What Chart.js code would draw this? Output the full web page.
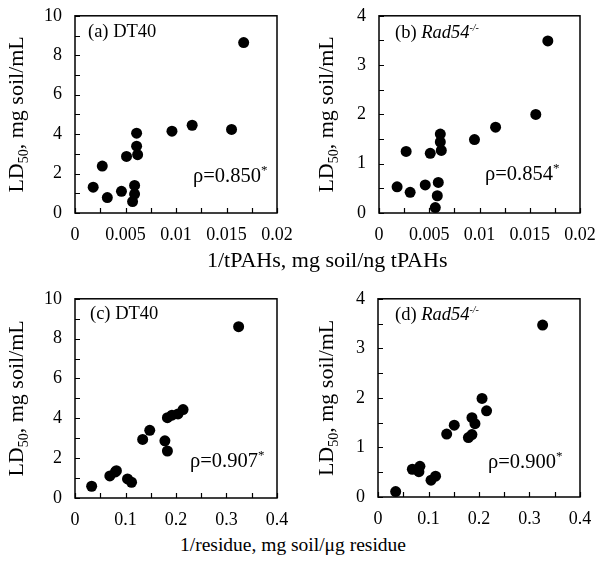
<!DOCTYPE html>
<html>
<head>
<meta charset="utf-8">
<script src="https://cdn.jsdelivr.net/npm/chart.js@4"></script>
<style>
  body { margin: 0; background: #fff; }
  #wrap { position: relative; width: 601px; height: 569px; }
  canvas { position: absolute; }
  .xtitle { position: absolute; font-family: 'Liberation Serif', serif; line-height: 22px; white-space: nowrap; color: #000; }
</style>
</head>
<body>
<div id="wrap">
  <canvas id="chartA" width="300" height="250" style="left:0px;top:0px"></canvas>
  <canvas id="chartB" width="301" height="250" style="left:300px;top:0px"></canvas>
  <canvas id="chartC" width="300" height="250" style="left:0px;top:283px"></canvas>
  <canvas id="chartD" width="301" height="250" style="left:300px;top:283px"></canvas>
  <div class="xtitle" id="titleTop" style="left:207px;top:249px;font-size:22px"></div>
  <div class="xtitle" id="titleBottom" style="left:180px;top:534px;font-size:19.5px"></div>
</div>
<script>
// 1/tPAHs values (x) and LD50 values (y)
const tpahsDT40 = [0.0167, 0.0116, 0.0096, 0.0155, 0.0061, 0.0061, 0.0062, 0.0051, 0.0027, 0.0018, 0.0032, 0.0046, 0.0059, 0.0059, 0.0057];
const ld50DT40 = [8.64, 4.45, 4.15, 4.24, 4.05, 3.39, 2.96, 2.87, 2.38, 1.31, 0.78, 1.10, 1.40, 0.96, 0.58];
const tpahsRad54 = [0.0168, 0.0156, 0.0116, 0.0095, 0.0061, 0.0061, 0.0062, 0.0051, 0.0027, 0.0018, 0.0031, 0.0046, 0.0059, 0.0058, 0.0056];
const ld50Rad54 = [3.49, 2.00, 1.74, 1.49, 1.60, 1.44, 1.27, 1.21, 1.25, 0.53, 0.42, 0.57, 0.62, 0.35, 0.11];

// 1/residue values (x) and LD50 values (y)
const residueDT40 = [0.324, 0.214, 0.204, 0.192, 0.183, 0.148, 0.134, 0.178, 0.183, 0.082, 0.069, 0.080, 0.104, 0.112, 0.033];
const ld50ResDT40 = [8.60, 4.44, 4.22, 4.16, 4.03, 3.40, 2.94, 2.87, 2.36, 1.37, 1.11, 1.31, 0.96, 0.79, 0.59];
const residueRad54 = [0.326, 0.206, 0.215, 0.186, 0.192, 0.151, 0.136, 0.186, 0.179, 0.083, 0.068, 0.081, 0.114, 0.105, 0.035];
const ld50ResRad54 = [3.47, 1.99, 1.74, 1.60, 1.48, 1.45, 1.27, 1.26, 1.20, 0.62, 0.56, 0.51, 0.42, 0.34, 0.11];

// tick labels
const tpahsTicks = [0, 0.005, 0.01, 0.015, 0.02];
const tpahsTickLabels = ['0', '0.005', '0.01', '0.015', '0.02'];
const residueTicks = [0, 0.1, 0.2, 0.3, 0.4];
const residueTickLabels = ['0', '0.1', '0.2', '0.3', '0.4'];
const ldTicksDT40 = [0, 2, 4, 6, 8, 10];
const ldTickLabelsDT40 = ['0', '2', '4', '6', '8', '10'];
const ldTicksRad54 = [0, 1, 2, 3, 4];
const ldTickLabelsRad54 = ['0', '1', '2', '3', '4'];

// texts
const panelNames = ['(a) ', '(b) ', '(c) ', '(d) '];
const cellLines = ['DT40', 'Rad54', 'DT40', 'Rad54'];
const rhoValues = ['ρ=0.850', 'ρ=0.854', 'ρ=0.907', 'ρ=0.900'];
const xTitles = ['1/tPAHs, mg soil/ng tPAHs', '1/residue, mg soil/μg residue'];

const SERIF = "'Liberation Serif', 'Times New Roman', serif";

function labelFor(ticks, labels) {
    return function(v) {
        const i = ticks.findIndex(t => Math.abs(t - v) < 1e-9);
        return i >= 0 ? labels[i] : '';
    };
}

function drawRuns(ctx, x, y, runs) {
    runs.forEach(r => {
        ctx.font = r.font;
        ctx.fillText(r.text, x, y + (r.dy || 0));
        x += ctx.measureText(r.text).width;
    });
}

function runsWidth(ctx, runs) {
    let w = 0;
    runs.forEach(r => { ctx.font = r.font; w += ctx.measureText(r.text).width; });
    return w;
}

function makePanel(id, cfg) {
    const points = cfg.xs.map((x, i) => ({ x: x, y: cfg.ys[i] }));

    const panelPlugin = {
        id: 'panelText',
        afterDraw(chart) {
            const ctx = chart.ctx;
            const area = chart.chartArea;
            ctx.save();
            ctx.strokeStyle = '#000';
            ctx.fillStyle = '#000';

            // inward minor/major ticks
            ctx.lineWidth = 1.2;
            const xs = chart.scales.x, ys = chart.scales.y;
            ctx.beginPath();
            xs.ticks.forEach(t => {
                const px = Math.round(xs.getPixelForValue(t.value)) + 0.5;
                ctx.moveTo(px, area.bottom);
                ctx.lineTo(px, area.bottom - 5);
            });
            ys.ticks.forEach(t => {
                const py = Math.round(ys.getPixelForValue(t.value)) + 0.5;
                ctx.moveTo(area.left, py);
                ctx.lineTo(area.left + 5, py);
            });
            ctx.stroke();

            // frame
            ctx.lineWidth = 1.5;
            ctx.strokeRect(area.left, area.top, area.right - area.left, area.bottom - area.top);

            // panel label
            ctx.textBaseline = 'alphabetic';
            ctx.textAlign = 'left';
            const nameRuns = [{ text: cfg.name, font: '18.5px ' + SERIF }];
            if (cfg.italic) {
                nameRuns.push({ text: cfg.cell, font: 'italic 18.5px ' + SERIF });
                nameRuns.push({ text: '-/-', font: 'italic 10px ' + SERIF, dy: -7 });
            } else {
                nameRuns[0].text += cfg.cell;
            }
            drawRuns(ctx, cfg.labelX, cfg.labelY, nameRuns);

            // correlation
            drawRuns(ctx, cfg.rhoX, cfg.rhoY, [
                { text: cfg.rho, font: '20.5px ' + SERIF },
                { text: '*', font: '13px ' + SERIF, dy: -8 }
            ]);

            // y axis title, rotated
            const titleRuns = [
                { text: 'LD', font: '22px ' + SERIF },
                { text: '50', font: '14px ' + SERIF, dy: 5 },
                { text: ', mg soil/mL', font: '22px ' + SERIF }
            ];
            ctx.translate(cfg.yTitleX, (area.top + area.bottom) / 2);
            ctx.rotate(-Math.PI / 2);
            drawRuns(ctx, -runsWidth(ctx, titleRuns) / 2, 0, titleRuns);
            ctx.restore();
        }
    };

    return new Chart(document.getElementById(id), {
        type: 'scatter',
        data: {
            datasets: [{
                data: points,
                backgroundColor: '#000',
                borderColor: '#000',
                borderWidth: 0,
                pointRadius: 5.5,
                pointHoverRadius: 5.5,
                clip: false
            }]
        },
        options: {
            responsive: false,
            animation: false,
            events: [],
            layout: { autoPadding: false, padding: cfg.pad },
            plugins: { legend: { display: false }, tooltip: { enabled: false } },
            scales: {
                x: {
                    type: 'linear',
                    min: 0,
                    max: cfg.xMax,
                    afterFit: s => { s.height = cfg.xH; },
                    grid: { display: false },
                    border: { display: false },
                    ticks: {
                        stepSize: cfg.xStep,
                        autoSkip: false,
                        maxRotation: 0,
                        color: '#000',
                        padding: 3,
                        font: { family: SERIF, size: 18 },
                        callback: labelFor(cfg.xTicks, cfg.xLabels)
                    }
                },
                y: {
                    type: 'linear',
                    min: 0,
                    max: cfg.yMax,
                    afterFit: s => { s.width = cfg.yW; },
                    grid: { display: false },
                    border: { display: false },
                    ticks: {
                        stepSize: cfg.yStep,
                        autoSkip: false,
                        color: '#000',
                        padding: 5,
                        font: { family: SERIF, size: 18 },
                        callback: labelFor(cfg.yTicks, cfg.yLabels)
                    }
                }
            }
        },
        plugins: [panelPlugin]
    });
}

document.getElementById('titleTop').textContent = xTitles[0];
document.getElementById('titleBottom').textContent = xTitles[1];

makePanel('chartA', {
    xs: tpahsDT40, ys: ld50DT40,
    xMax: 0.02, xStep: 0.0025, xTicks: tpahsTicks, xLabels: tpahsTickLabels,
    yMax: 10, yStep: 1, yTicks: ldTicksDT40, yLabels: ldTickLabelsDT40,
    pad: { left: 0, top: 13, right: 23, bottom: 0 }, yW: 75, xH: 37,
    name: panelNames[0], cell: cellLines[0], italic: false, labelX: 88, labelY: 37,
    rho: rhoValues[0], rhoX: 193, rhoY: 182, yTitleX: 23
});

makePanel('chartB', {
    xs: tpahsRad54, ys: ld50Rad54,
    xMax: 0.02, xStep: 0.0025, xTicks: tpahsTicks, xLabels: tpahsTickLabels,
    yMax: 4, yStep: 0.5, yTicks: ldTicksRad54, yLabels: ldTickLabelsRad54,
    pad: { left: 0, top: 13, right: 21, bottom: 0 }, yW: 79, xH: 37,
    name: panelNames[1], cell: cellLines[1], italic: true, labelX: 95, labelY: 38,
    rho: rhoValues[1], rhoX: 185, rhoY: 180, yTitleX: 33
});

makePanel('chartC', {
    xs: residueDT40, ys: ld50ResDT40,
    xMax: 0.4, xStep: 0.05, xTicks: residueTicks, xLabels: residueTickLabels,
    yMax: 10, yStep: 1, yTicks: ldTicksDT40, yLabels: ldTickLabelsDT40,
    pad: { left: 0, top: 13, right: 23, bottom: 0 }, yW: 75, xH: 35,
    name: panelNames[2], cell: cellLines[2], italic: false, labelX: 90, labelY: 36,
    rho: rhoValues[2], rhoX: 190, rhoY: 184, yTitleX: 23
});

makePanel('chartD', {
    xs: residueRad54, ys: ld50ResRad54,
    xMax: 0.4, xStep: 0.05, xTicks: residueTicks, xLabels: residueTickLabels,
    yMax: 4, yStep: 0.5, yTicks: ldTicksRad54, yLabels: ldTickLabelsRad54,
    pad: { left: 0, top: 13, right: 21, bottom: 0 }, yW: 78, xH: 36,
    name: panelNames[3], cell: cellLines[3], italic: true, labelX: 95, labelY: 37,
    rho: rhoValues[3], rhoX: 188, rhoY: 185, yTitleX: 33
});
</script>
</body>
</html>
